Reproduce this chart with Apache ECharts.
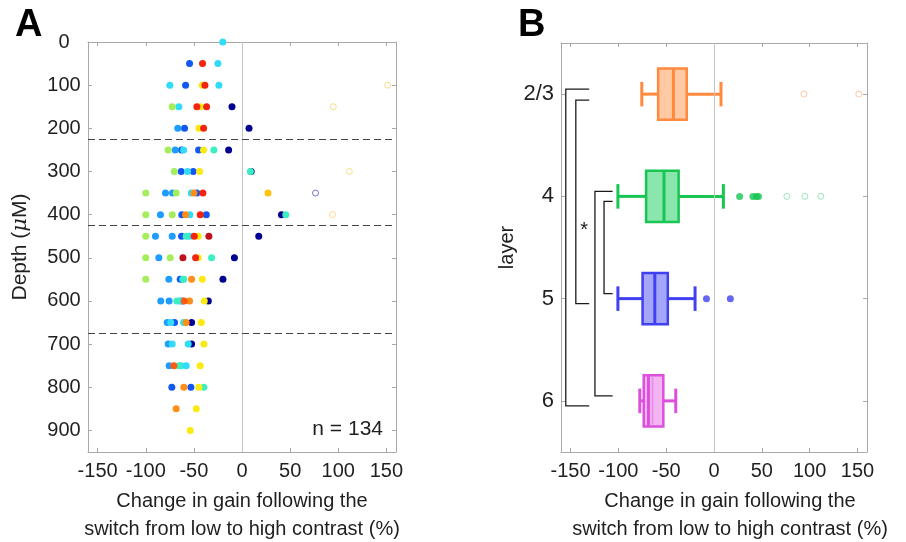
<!DOCTYPE html>
<html>
<head>
<meta charset="utf-8">
<script src="https://cdn.jsdelivr.net/npm/echarts@6/dist/echarts.min.js"></script>
<style>
  html, body { margin: 0; padding: 0; background: #ffffff; }
  #chart { width: 906px; height: 542px; }
</style>
</head>
<body>
<div id="chart"></div>
<script>
// ---------- Panel A: gain change of each cell versus cortical depth ----------
const depthTicks = [0, 100, 200, 300, 400, 500, 600, 700, 800, 900];
const changeTicks = [-150, -100, -50, 0, 50, 100, 150];
const layerBoundaries = [225, 425, 675];
const cellCount = 134;

// cells grouped by animal: [change in gain (%), depth (µM)]
const cellsNavy = [[-10.4, 150], [7.3, 200], [-13.9, 250], [9.5, 300], [41, 400], [17.4, 450], [-7.9, 500], [-19.8, 550], [-35, 600], [-52.4, 650], [-52.4, 700]];
const cellsBlue = [[-54.5, 50], [-58.6, 100], [-59.7, 200], [-62.8, 250], [-45.1, 250], [-63.2, 300], [-50.7, 300], [-46.9, 350], [-62.5, 400], [-37.1, 400], [-62.8, 450], [-64.2, 550], [-62, 600], [-70.1, 650], [-72.9, 800], [-53.1, 800]];
const cellsAzure = [[-66.7, 200], [-69.4, 250], [-79.5, 350], [-72.2, 350], [-84.7, 400], [-89.9, 450], [-72.5, 450], [-86.4, 500], [-76, 550], [-84.4, 600], [-75.7, 600], [-77.7, 650], [-76.7, 700], [-75.7, 750]];
const cellsCyan = [[-20, 0], [-25, 50], [-75, 100], [-24, 100], [-65.6, 150], [-60.7, 250], [-56.6, 300], [-52.7, 350], [-54.2, 400], [-54.5, 450], [-61.5, 550], [-64.6, 600], [-74, 650], [-60.7, 650], [-72.5, 700], [-55.9, 700], [-63.5, 750], [-58, 750]];
const cellsAqua = [[-29.2, 250], [8.7, 300], [45.5, 400], [-58, 450], [-31.6, 500], [-60.5, 550], [-67.7, 600], [-59.5, 650], [-65.6, 750], [-39.6, 800]];
const cellsLime = [[-72.5, 150], [-76.7, 250], [-70.4, 300], [-100, 350], [-68.4, 350], [-100, 400], [-72.5, 400], [-100, 450], [-100, 500], [-74.6, 500], [-100, 550]];
const cellsYellow = [[-41.3, 100], [-43.4, 150], [-44.8, 200], [-40, 250], [-44, 300], [-45.5, 450], [-45.5, 500], [-41.3, 550], [-39.2, 600], [-42.3, 650], [-39.6, 700], [-43.4, 750], [-44.8, 800], [-47.5, 850], [-53.8, 900]];
const cellsGold = [[27, 350]];
const cellsOrange = [[-50, 350], [-58.6, 400], [-52.4, 550], [-54.5, 600], [-58, 650], [-60.4, 800], [-68.4, 850]];
const cellsVermilion = [[-60, 600], [-70.8, 750]];
const cellsRed = [[-41, 50], [-38.5, 100], [-46.9, 150], [-36.8, 150], [-39.9, 200], [-40.6, 350], [-43.4, 400], [-49.6, 450], [-48.2, 500]];
const cellsDarkRed = [[-34.4, 450], [-61.4, 500]];
// outlying cells, drawn hollow
const outlierCellsYellow = [[151.4, 100], [94.8, 150], [111.5, 300], [94, 400]];
const outlierCellsBlue = [[76.4, 350]];

// ---------- Panel B: distribution per layer ----------
const layers = ['2/3', '4', '5', '6'];
const whiskerLow = [-75.5, -100.5, -100.5, -77.6];
const quartile1 = [-58.4, -71, -74.7, -73.5];
const medians = [-42.4, -52.3, -61.9, -68.5];
const quartile3 = [-28.5, -37, -48.3, -53];
const whiskerHigh = [7.3, 9.8, -19.8, -40];
const secondLine6 = -64.3;
const outliersLayer4 = [26.8, 40.7, 44.3, 46.5];
const outliersLayer5 = [-7.9, 17.1];
const farOutliersLayer23 = [94, 151.4];
const farOutliersLayer4 = [76.2, 95, 111.7];
// pairwise comparisons: [upper layer index, lower layer index]
const comparisons = [[0, 3], [0, 2], [1, 3], [1, 2]];

// ---------- styling ----------
const FONT = '"Liberation Sans", Arial, Helvetica, sans-serif';
const TEXT = '#1f1f1f';
const FRAME = '#a8a8a8';
const layerStroke = ['#ff8a3d', '#17c653', '#4040f2', '#dc50dc'];
const layerFill = ['#ffc9a4', '#8ae6ad', '#a4a6fb', '#f2b4f2'];

const chart = echarts.init(document.getElementById('chart'), null, { renderer: 'canvas' });

function frameAxis(extra) {
  return Object.assign({
    axisLine: { show: true, onZero: false, lineStyle: { color: FRAME, width: 1 } },
    axisTick: { show: true, inside: true, length: 4, lineStyle: { color: FRAME } },
    splitLine: { show: false },
    axisLabel: { show: false }
  }, extra);
}

function valueX(gridIndex, position, withLabels, name, nameShift) {
  const ax = frameAxis({
    type: 'value', gridIndex, position, min: -160, max: 160,
    axisTick: { show: true, inside: true, length: 4, lineStyle: { color: FRAME }, customValues: changeTicks },
    axisLabel: { show: withLabels, customValues: changeTicks, color: TEXT, fontSize: 20, fontFamily: FONT, margin: 9 }
  });
  if (name) {
    ax.name = name;
    ax.nameLocation = 'middle';
    ax.nameGap = 35;
    ax.nameTextStyle = { color: TEXT, fontSize: 20, fontFamily: FONT, lineHeight: 28, padding: [0, 0, 0, nameShift || 0] };
  }
  return ax;
}

const dot = (name, data, color) => ({
  name, type: 'scatter', xAxisIndex: 0, yAxisIndex: 0, data,
  symbolSize: 7, itemStyle: { color, opacity: 1 }, silent: true, z: 3
});
const ring = (data, color) => ({
  type: 'scatter', xAxisIndex: 0, yAxisIndex: 0, data, symbol: 'circle',
  symbolSize: 6, itemStyle: { color: 'rgba(0,0,0,0)', borderColor: color, borderWidth: 1 }, silent: true, z: 3
});

// box plot rendered as custom shapes
const boxData = layers.map((l, i) => [i, whiskerLow[i], quartile1[i], medians[i], quartile3[i], whiskerHigh[i]]);

function renderBox(params, api) {
  const i = params.dataIndex;
  const cat = api.value(0);
  const lo = api.coord([api.value(1), cat]);
  const q1 = api.coord([api.value(2), cat]);
  const md = api.coord([api.value(3), cat]);
  const q3 = api.coord([api.value(4), cat]);
  const hi = api.coord([api.value(5), cat]);
  const band = api.size([0, 1])[1];
  const hb = band * 0.25, hc = band * 0.12;
  const y = lo[1];
  const c = layerStroke[i];
  const lw = { stroke: c, lineWidth: 3 };
  const children = [
    { type: 'line', shape: { x1: lo[0], y1: y, x2: q1[0], y2: y }, style: lw },
    { type: 'line', shape: { x1: q3[0], y1: y, x2: hi[0], y2: y }, style: lw },
    { type: 'line', shape: { x1: lo[0], y1: y - hc, x2: lo[0], y2: y + hc }, style: lw },
    { type: 'line', shape: { x1: hi[0], y1: y - hc, x2: hi[0], y2: y + hc }, style: lw },
    { type: 'rect', shape: { x: q1[0], y: y - hb, width: q3[0] - q1[0], height: 2 * hb },
      style: { fill: layerFill[i], stroke: c, lineWidth: 2.5 } },
    { type: 'line', shape: { x1: md[0], y1: y - hb, x2: md[0], y2: y + hb }, style: { stroke: c, lineWidth: 3 } }
  ];
  if (i === 3) {
    const s = api.coord([secondLine6, cat]);
    children.push({ type: 'line', shape: { x1: s[0], y1: y - hb + 2, x2: s[0], y2: y + hb - 2 },
      style: { stroke: '#e68ae6', lineWidth: 1.5 } });
  }
  return { type: 'group', children };
}

// significance brackets (x positions in axis units, vertical nudges in px)
const bracketX = [-155, -144.5, -124.5, -115];
const bracketEnd = [-130.5, -130.5, -106, -106];
const bracketNudgeTop = [-5, 6, -5, 5];
const bracketNudgeBottom = [5, 5, -5, -5];

function renderBracket(params, api) {
  const k = params.dataIndex;
  const [a, b] = comparisons[k];
  const top = api.coord([bracketX[k], a]);
  const bot = api.coord([bracketX[k], b]);
  const end = api.coord([bracketEnd[k], a])[0];
  const y1 = top[1] + bracketNudgeTop[k], y2 = bot[1] + bracketNudgeBottom[k];
  const st = { stroke: '#1a1a1a', lineWidth: 1.3, fill: null };
  const children = [{
    type: 'polyline',
    shape: { points: [[end, y1], [top[0], y1], [top[0], y2], [end, y2]] },
    style: st
  }];
  if (k === 1) {
    const band = api.size([0, 1])[1];
    const p = api.coord([-135.7, 1]);
    children.push({ type: 'text', x: p[0], y: p[1] + band * 0.3 + 3,
      style: { text: '*', fontSize: 20, fontFamily: FONT, fill: '#1a1a1a', align: 'center', verticalAlign: 'middle' } });
  }
  return { type: 'group', children };
}

const option = {
  backgroundColor: '#ffffff',
  animation: false,
  grid: [
    { left: 88, top: 42, width: 308, height: 410, outerBoundsMode: 'none', containLabel: false },
    { left: 561, top: 43, width: 306, height: 409, outerBoundsMode: 'none', containLabel: false }
  ],
  xAxis: [
    valueX(0, 'bottom', true, 'Change in gain following the\nswitch from low to high contrast (%)', 0),
    valueX(0, 'top', false),
    valueX(1, 'bottom', true, 'Change in gain following the\nswitch from low to high contrast (%)', 32),
    valueX(1, 'top', false)
  ],
  yAxis: [
    frameAxis({
      type: 'value', gridIndex: 0, position: 'left', min: 0, max: 950, inverse: true,
      axisTick: { show: true, inside: true, length: 4, lineStyle: { color: FRAME }, customValues: depthTicks },
      axisLabel: { show: true, customValues: depthTicks, color: TEXT, fontSize: 20, fontFamily: FONT, margin: 24, align: 'center' },
      name: '{n|Depth (}{m|μ}{n|M)}', nameLocation: 'middle', nameGap: 57,
      nameTextStyle: { rich: {
        n: { fontSize: 21, fontFamily: FONT, color: TEXT },
        m: { fontSize: 21, fontFamily: '"DejaVu Serif", serif', fontStyle: 'italic', color: TEXT }
      } }
    }),
    frameAxis({
      type: 'value', gridIndex: 0, position: 'right', min: 0, max: 950, inverse: true,
      axisTick: { show: true, inside: true, length: 4, lineStyle: { color: FRAME }, customValues: depthTicks }
    }),
    frameAxis({
      type: 'category', gridIndex: 1, position: 'left', data: layers, inverse: true,
      axisTick: { show: true, inside: true, length: 4, alignWithLabel: true, lineStyle: { color: FRAME } },
      axisLabel: { show: true, color: TEXT, fontSize: 22, fontFamily: FONT, margin: 7 },
      name: 'layer', nameLocation: 'middle', nameGap: 44,
      nameTextStyle: { color: TEXT, fontSize: 20, fontFamily: FONT }
    }),
    frameAxis({
      type: 'category', gridIndex: 1, position: 'right', data: layers, inverse: true,
      axisTick: { show: true, inside: true, length: 4, alignWithLabel: true, lineStyle: { color: FRAME } }
    })
  ],
  graphic: [
    { type: 'text', left: 15, top: 7, style: { text: 'A', fontSize: 38, fontWeight: 'bold', fontFamily: FONT, fill: '#000' } },
    { type: 'text', left: 518, top: 7, style: { text: 'B', fontSize: 38, fontWeight: 'bold', fontFamily: FONT, fill: '#000' } },
    { type: 'text', right: 523, top: 419, style: { text: 'n = ' + cellCount, fontSize: 21, fontFamily: FONT, fill: TEXT } }
  ],
  series: [
    {
      type: 'scatter', xAxisIndex: 0, yAxisIndex: 0, data: [], silent: true,
      markLine: {
        silent: true, symbol: 'none', label: { show: false }, animation: false,
        data: [{ xAxis: 0, lineStyle: { color: '#c4c4c4', width: 1, type: 'solid' } }]
          .concat(layerBoundaries.map(v => ({ yAxis: v, lineStyle: { color: '#444444', width: 1.2, type: [7, 4] } })))
      }
    },
    dot('navy', cellsNavy, '#000090'),
    dot('blue', cellsBlue, '#1257f2'),
    dot('azure', cellsAzure, '#1c9dff'),
    dot('cyan', cellsCyan, '#30dcf8'),
    dot('aqua', cellsAqua, '#3cefc2'),
    dot('lime', cellsLime, '#a3ee5a'),
    dot('yellow', cellsYellow, '#fbea12'),
    dot('gold', cellsGold, '#ffc20e'),
    dot('orange', cellsOrange, '#ff8d17'),
    dot('vermilion', cellsVermilion, '#ff5a12'),
    dot('red', cellsRed, '#f2240f'),
    dot('darkred', cellsDarkRed, '#bf111b'),
    ring(outlierCellsYellow, '#f6d36c'),
    ring(outlierCellsBlue, '#5252c8'),
    {
      type: 'scatter', xAxisIndex: 2, yAxisIndex: 2, data: [], silent: true,
      markLine: {
        silent: true, symbol: 'none', label: { show: false }, animation: false,
        data: [{ xAxis: 0, lineStyle: { color: '#c4c4c4', width: 1, type: 'solid' } }]
      }
    },
    {
      type: 'custom', xAxisIndex: 2, yAxisIndex: 2, data: boxData,
      encode: { x: [1, 2, 3, 4, 5], y: 0 }, renderItem: renderBox, silent: true, z: 3
    },
    {
      type: 'custom', xAxisIndex: 2, yAxisIndex: 2, data: comparisons.map((c, k) => [bracketX[k], c[0]]),
      encode: { x: 0, y: 1 }, renderItem: renderBracket, silent: true, clip: false, z: 4
    },
    {
      type: 'scatter', xAxisIndex: 2, yAxisIndex: 2, symbolSize: 7, silent: true,
      data: outliersLayer4.map(v => [v, 1]).concat(outliersLayer5.map(v => [v, 2])),
      itemStyle: { color: (p) => layerStroke[p.data[1]] }
    },
    {
      type: 'scatter', xAxisIndex: 2, yAxisIndex: 2, symbolSize: 6, silent: true,
      data: farOutliersLayer23.map(v => [v, 0]),
      itemStyle: { color: 'rgba(0,0,0,0)', borderColor: '#ffb68a', borderWidth: 1 }
    },
    {
      type: 'scatter', xAxisIndex: 2, yAxisIndex: 2, symbolSize: 6, silent: true,
      data: farOutliersLayer4.map(v => [v, 1]),
      itemStyle: { color: 'rgba(0,0,0,0)', borderColor: '#7fe2a4', borderWidth: 1 }
    }
  ]
};

chart.setOption(option);
</script>
</body>
</html>
